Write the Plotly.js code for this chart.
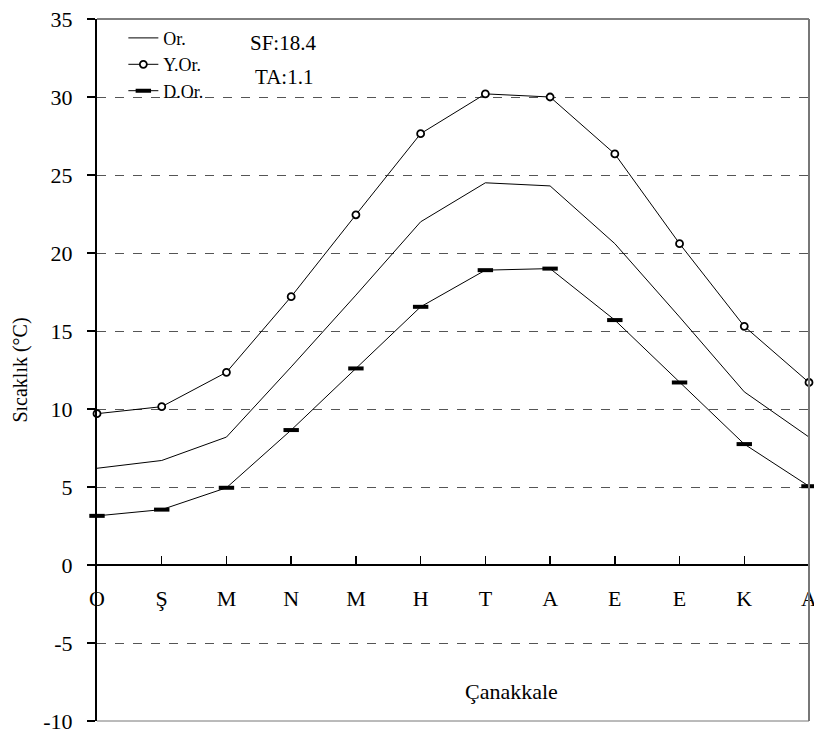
<!DOCTYPE html>
<html>
<head>
<meta charset="utf-8">
<script src="https://cdn.plot.ly/plotly-3.0.1.min.js"></script>
<style>html,body{margin:0;padding:0;background:#fff;}#chart{width:814px;height:729px;}</style>
</head>
<body>
<div id="chart"></div>
<script>
var months = ["O", "Ş", "M", "N", "M", "H", "T", "A", "E", "E", "K", "A"];
var monthIndex = [0, 1, 2, 3, 4, 5, 6, 7, 8, 9, 10, 11];
var orValues  = [6.2, 6.7, 8.2, 12.7, 17.3, 22.0, 24.5, 24.3, 20.6, 15.9, 11.1, 8.2];
var yorValues = [9.7, 10.15, 12.35, 17.2, 22.45, 27.65, 30.2, 30.0, 26.35, 20.6, 15.3, 11.7];
var dorValues = [3.15, 3.55, 4.95, 8.65, 12.6, 16.55, 18.9, 19.0, 15.7, 11.7, 7.75, 5.05];
var yTicks = [-10, -5, 0, 5, 10, 15, 20, 25, 30, 35];
var yTickText = ["-10", "-5", "0", "5", "10", "15", "20", "25", "30", "35"];
var serif = "Liberation Serif";

var traces = [
  {x: monthIndex, y: orValues, name: "Or.", mode: "lines", type: "scatter",
   line: {color: "#000", width: 1}},
  {x: monthIndex, y: yorValues, name: "Y.Or.", mode: "lines+markers", type: "scatter",
   line: {color: "#000", width: 1},
   marker: {symbol: "circle", size: 7, color: "#fff", line: {color: "#000", width: 1.8}}},
  {x: monthIndex, y: dorValues, name: "D.Or.", mode: "lines+markers", type: "scatter",
   line: {color: "#000", width: 1},
   marker: {symbol: "line-ew", size: 11, color: "#000", line: {color: "#000", width: 4}}}
];

var layout = {
  width: 814, height: 729,
  margin: {l: 97, r: 5, t: 19, b: 8},
  paper_bgcolor: "#fff", plot_bgcolor: "#fff",
  font: {family: serif, color: "#000", size: 22},
  showlegend: true,
  legend: {x: 0.037, y: 0.999, xanchor: "left", yanchor: "top",
           bgcolor: "rgba(0,0,0,0)", borderwidth: 0,
           font: {family: serif, size: 18, color: "#000"}},
  xaxis: {range: [0, 11], anchor: "free", position: 10/45,
          tickvals: monthIndex, ticktext: months,
          ticks: "inside", ticklen: 8, tickwidth: 1.5, tickcolor: "#000",
          showline: true, linewidth: 2, linecolor: "#000",
          showgrid: false, zeroline: false, ticklabelstandoff: 14,
          ticklabeloverflow: "allow",
          tickfont: {family: serif, size: 22, color: "#000"}},
  yaxis: {range: [-10, 35], tickvals: yTicks, ticktext: yTickText,
          ticks: "outside", ticklen: 8, tickwidth: 1.5, tickcolor: "#000",
          showline: true, linewidth: 2, linecolor: "#000",
          showgrid: true, gridcolor: "#555", gridwidth: 1, griddash: "dash",
          zeroline: false, ticklabeloverflow: "allow", ticklabelstandoff: 10,
          tickfont: {family: serif, size: 22, color: "#000"},
          title: {text: "Sıcaklık (°C)", font: {family: serif, size: 20, color: "#000"}, standoff: 10}},
  shapes: [
    {type: "line", xref: "paper", yref: "paper", x0: 0, x1: 1, y0: 1, y1: 1, line: {color: "#000", width: 1}},
    {type: "line", xref: "paper", yref: "paper", x0: 1, x1: 1, y0: 0, y1: 1, line: {color: "#777", width: 2}},
    {type: "line", xref: "paper", yref: "paper", x0: 0, x1: 1, y0: 0, y1: 0, line: {color: "#777", width: 1}}
  ],
  annotations: [
    {text: "SF:18.4", xref: "paper", yref: "paper", x: 0.212, y: 0.966, xanchor: "left", yanchor: "middle",
     showarrow: false, font: {family: serif, size: 21, color: "#000"}},
    {text: "TA:1.1", xref: "paper", yref: "paper", x: 0.219, y: 0.918, xanchor: "left", yanchor: "middle",
     showarrow: false, font: {family: serif, size: 21, color: "#000"}},
    {text: "Çanakkale", xref: "x", yref: "y", x: 6.4, y: -8.1, showarrow: false,
     font: {family: serif, size: 22, color: "#000"}}
  ]
};

traces.forEach(function(t){ t.cliponaxis = false; });
Plotly.newPlot("chart", traces, layout, {displayModeBar: false, staticPlot: true});
</script>
</body>
</html>
